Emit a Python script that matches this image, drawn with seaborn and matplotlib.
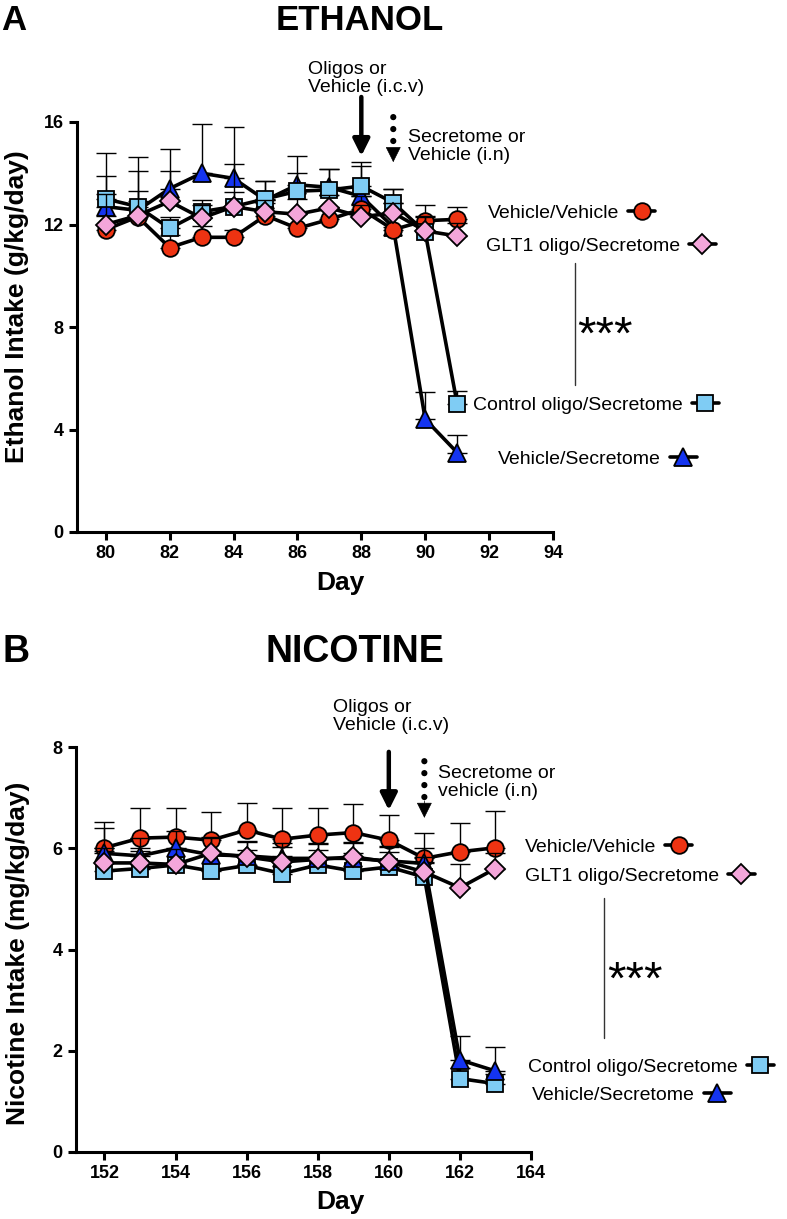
import numpy as np
import matplotlib
matplotlib.use('Agg')
from matplotlib import pyplot as plt
import seaborn as sns

sns.set_style('ticks')
plt.rcParams['font.family'] = ['Liberation Sans', 'DejaVu Sans']
plt.rcParams['text.color'] = 'black'
plt.rcParams['axes.labelcolor'] = 'black'
plt.rcParams['axes.edgecolor'] = 'black'
plt.rcParams['xtick.color'] = 'black'
plt.rcParams['ytick.color'] = 'black'

groups = ['Vehicle/Vehicle', 'GLT1 oligo/Secretome', 'Control oligo/Secretome', 'Vehicle/Secretome']

# ---- ethanol data (mean, upward SEM) ----
eth_days = list(range(80, 92))
eth_veh_veh = [11.8, 12.3, 11.1, 11.5, 11.5, 12.35, 11.85, 12.2, 12.6, 11.8, 12.15, 12.2]
eth_glt1_sec = [12.0, 12.35, 12.9, 12.25, 12.7, 12.5, 12.4, 12.65, 12.3, 12.45, 11.75, 11.55]
eth_ctrl_sec = [13.0, 12.7, 11.85, 12.5, 12.7, 13.0, 13.3, 13.35, 13.5, 12.85, 11.7, 5.0]
eth_veh_sec = [12.7, 12.55, 13.4, 14.0, 13.8, 12.95, 13.55, 13.45, 13.1, 11.9, 4.4, 3.1]
eth_veh_veh_sem = [0.55, 0.6, 0.5, 0.45, 0.3, 0.5, 0.6, 0.5, 0.5, 0.6, 0.6, 0.5]
eth_glt1_sec_sem = [1.2, 0.95, 1.2, 0.5, 0.55, 0.45, 0.6, 0.5, 0.45, 0.4, 0.6, 0.5]
eth_ctrl_sec_sem = [0.9, 1.37, 0.45, 0.47, 1.65, 0.7, 1.38, 0.82, 0.95, 0.55, 0.6, 0.5]
eth_veh_sec_sem = [2.1, 2.1, 1.55, 1.92, 2.0, 0.75, 0.45, 0.72, 1.2, 1.5, 1.07, 0.67]

# ---- nicotine data (mean, upward SEM) ----
nic_days = list(range(152, 164))
nic_veh_veh = [6.01, 6.2, 6.22, 6.16, 6.36, 6.18, 6.26, 6.31, 6.16, 5.8, 5.93, 6.01]
nic_glt1_sec = [5.71, 5.71, 5.68, 5.9, 5.83, 5.73, 5.78, 5.83, 5.73, 5.53, 5.22, 5.6]
nic_ctrl_sec = [5.55, 5.6, 5.67, 5.55, 5.66, 5.5, 5.67, 5.55, 5.63, 5.43, 1.45, 1.35]
nic_veh_sec = [5.9, 5.85, 6.0, 5.87, 5.85, 5.8, 5.8, 5.8, 5.75, 5.7, 1.82, 1.6]
nic_veh_veh_sem = [0.5, 0.6, 0.58, 0.56, 0.54, 0.62, 0.54, 0.56, 0.49, 0.5, 0.57, 0.72]
nic_glt1_sec_sem = [0.3, 0.3, 0.3, 0.3, 0.3, 0.3, 0.3, 0.3, 0.3, 0.3, 0.46, 0.3]
nic_ctrl_sec_sem = [0.4, 0.35, 0.3, 0.4, 0.3, 0.35, 0.3, 0.35, 0.3, 0.3, 0.2, 0.2]
nic_veh_sec_sem = [0.5, 0.35, 0.35, 0.35, 0.3, 0.3, 0.3, 0.3, 0.3, 0.3, 0.48, 0.48]

styles = {
    'Vehicle/Vehicle': dict(marker='o', color='#EE3312', ms=12),
    'GLT1 oligo/Secretome': dict(marker='D', color='#F4A6DA', ms=10),
    'Control oligo/Secretome': dict(marker='s', color='#7FCCF4', ms=11),
    'Vehicle/Secretome': dict(marker='^', color='#1434F0', ms=13),
}

W, H = 787, 1219
fig = plt.figure(figsize=(W / 100, H / 100), dpi=100)


def px_axes(l, t, r, b):
    return fig.add_axes([l / W, 1 - b / H, (r - l) / W, (b - t) / H])


def draw_panel(ax, days, means, sems, order):
    z = 3
    lines = {}
    for g in order:
        st = styles[g]
        ax.errorbar(days, means[g], yerr=[np.zeros(len(days)), sems[g]], fmt='none',
                    ecolor='black', elinewidth=1, capsize=7, capthick=1, zorder=z)
        sns.lineplot(x=days, y=means[g], ax=ax, color='black', lw=2.6, errorbar=None,
                     marker=st['marker'], markersize=st['ms'], markerfacecolor=st['color'],
                     markeredgecolor='black', markeredgewidth=1.3, zorder=z + 1)
        lines[g] = ax.lines[-1]
        z += 2
    return lines


def style_axes(ax):
    sns.despine(ax=ax)
    for s in ['left', 'bottom']:
        ax.spines[s].set_linewidth(2.2)
    ax.tick_params(direction='out', length=6, width=2.2, labelsize=13)
    for lab in ax.get_xticklabels() + ax.get_yticklabels():
        lab.set_fontweight('bold')


def add_key(ax, line, name, x_px, y_px):
    leg = ax.legend(handles=[line], labels=[name], loc='center left',
                    bbox_to_anchor=(x_px / W, 1 - y_px / H), bbox_transform=fig.transFigure,
                    frameon=False, markerfirst=False, handlelength=1.4, handletextpad=0.45,
                    borderpad=0, borderaxespad=0, fontsize=14)
    ax.add_artist(leg)
    ax.legend_ = None  # keep it only once, as an added artist


def arrow(ax, x, y0, y1, lw=3.2):
    ax.annotate('', xy=(x, y1), xytext=(x, y0), xycoords=('data', 'axes fraction'),
                textcoords=('data', 'axes fraction'), annotation_clip=False,
                arrowprops=dict(arrowstyle='-|>,head_length=1.0,head_width=0.5', color='black',
                                lw=lw, shrinkA=0, shrinkB=0))


def dotted_arrow(ax, x, y0, ymid, y1):
    ax.annotate('', xy=(x, ymid), xytext=(x, y0), xycoords=('data', 'axes fraction'),
                textcoords=('data', 'axes fraction'), annotation_clip=False,
                arrowprops=dict(arrowstyle='-', color='black', lw=4.5,
                                linestyle=(0, (0.01, 1.9)), capstyle='round',
                                shrinkA=0, shrinkB=0))
    arrow(ax, x, ymid, y1, lw=0.5)


# ================= Panel A: ethanol =================
axA = px_axes(77, 122, 553, 532)
eth_means = dict(zip(groups, [eth_veh_veh, eth_glt1_sec, eth_ctrl_sec, eth_veh_sec]))
eth_sems = dict(zip(groups, [eth_veh_veh_sem, eth_glt1_sec_sem, eth_ctrl_sec_sem, eth_veh_sec_sem]))
linesA = draw_panel(axA, eth_days, eth_means, eth_sems,
                    ['Vehicle/Secretome', 'Vehicle/Vehicle', 'Control oligo/Secretome', 'GLT1 oligo/Secretome'])
axA.set_xlim(79.1, 94)
axA.set_ylim(0, 16)
axA.set_xticks(range(80, 95, 2))
axA.set_yticks(range(0, 17, 4))
style_axes(axA)
axA.set_xlabel('Day', fontsize=19, fontweight='bold')
axA.set_ylabel('Ethanol Intake (g/kg/day)', fontsize=19, fontweight='bold')
axA.xaxis.set_label_coords(0.553, -0.095)
axA.yaxis.set_label_coords(-0.1, 0.55)

arrow(axA, 88, 1.061, 0.917)
dotted_arrow(axA, 89, 1.012, 0.936, 0.902)
fig.text(308 / W, 1 - 96 / H, 'Oligos or\nVehicle (i.c.v)', fontsize=14, ha='left', va='bottom', linespacing=1.1)
fig.text(408 / W, 1 - 146.5 / H, 'Secretome or\nVehicle (i.n)', fontsize=14, ha='left', va='center', linespacing=1.1)

add_key(axA, linesA['Vehicle/Vehicle'], 'Vehicle/Vehicle', 488, 213)
add_key(axA, linesA['GLT1 oligo/Secretome'], 'GLT1 oligo/Secretome', 486, 246)
add_key(axA, linesA['Control oligo/Secretome'], 'Control oligo/Secretome', 473, 405)
add_key(axA, linesA['Vehicle/Secretome'], 'Vehicle/Secretome', 498, 459)
fig.add_artist(plt.Line2D([575 / W, 575 / W], [1 - 263 / H, 1 - 385 / H], color='#333333', lw=1))
fig.text(577 / W, 1 - 337 / H, '***', fontsize=34, ha='left', va='center')

fig.text(14 / W, 1 - 4 / H, 'A', fontsize=25, fontweight='bold', ha='center', va='top')
fig.text(360 / W, 1 - 4 / H, 'ETHANOL', fontsize=25, fontweight='bold', ha='center', va='top')

# ================= Panel B: nicotine =================
axB = px_axes(76, 747, 531, 1152)
nic_means = dict(zip(groups, [nic_veh_veh, nic_glt1_sec, nic_ctrl_sec, nic_veh_sec]))
nic_sems = dict(zip(groups, [nic_veh_veh_sem, nic_glt1_sec_sem, nic_ctrl_sec_sem, nic_veh_sec_sem]))
linesB = draw_panel(axB, nic_days, nic_means, nic_sems,
                    ['Vehicle/Vehicle', 'Control oligo/Secretome', 'Vehicle/Secretome', 'GLT1 oligo/Secretome'])
axB.set_xlim(151.2, 164)
axB.set_ylim(0, 8)
axB.set_xticks(range(152, 165, 2))
axB.set_yticks(range(0, 9, 2))
style_axes(axB)
axB.set_xlabel('Day', fontsize=19, fontweight='bold')
axB.set_ylabel('Nicotine Intake (mg/kg/day)', fontsize=19, fontweight='bold')
axB.xaxis.set_label_coords(0.58, -0.094)
axB.yaxis.set_label_coords(-0.1, 0.49)

arrow(axB, 160, 0.988, 0.844)
dotted_arrow(axB, 161, 0.965, 0.867, 0.825)
fig.text(333 / W, 1 - 716.5 / H, 'Oligos or\nVehicle (i.c.v)', fontsize=14, ha='left', va='center', linespacing=1.1)
fig.text(438 / W, 1 - 782.5 / H, 'Secretome or\nvehicle (i.n)', fontsize=14, ha='left', va='center', linespacing=1.1)

add_key(axB, linesB['Vehicle/Vehicle'], 'Vehicle/Vehicle', 525, 847)
add_key(axB, linesB['GLT1 oligo/Secretome'], 'GLT1 oligo/Secretome', 525, 876)
add_key(axB, linesB['Control oligo/Secretome'], 'Control oligo/Secretome', 528, 1067)
add_key(axB, linesB['Vehicle/Secretome'], 'Vehicle/Secretome', 532, 1095)
fig.add_artist(plt.Line2D([604 / W, 604 / W], [1 - 898 / H, 1 - 1038 / H], color='#333333', lw=1))
fig.text(607 / W, 1 - 982 / H, '***', fontsize=34, ha='left', va='center')

fig.text(16 / W, 1 - 634 / H, 'B', fontsize=27, fontweight='bold', ha='center', va='top')
fig.text(355 / W, 1 - 634 / H, 'NICOTINE', fontsize=27, fontweight='bold', ha='center', va='top')

plt.savefig('out.png', dpi=100)
